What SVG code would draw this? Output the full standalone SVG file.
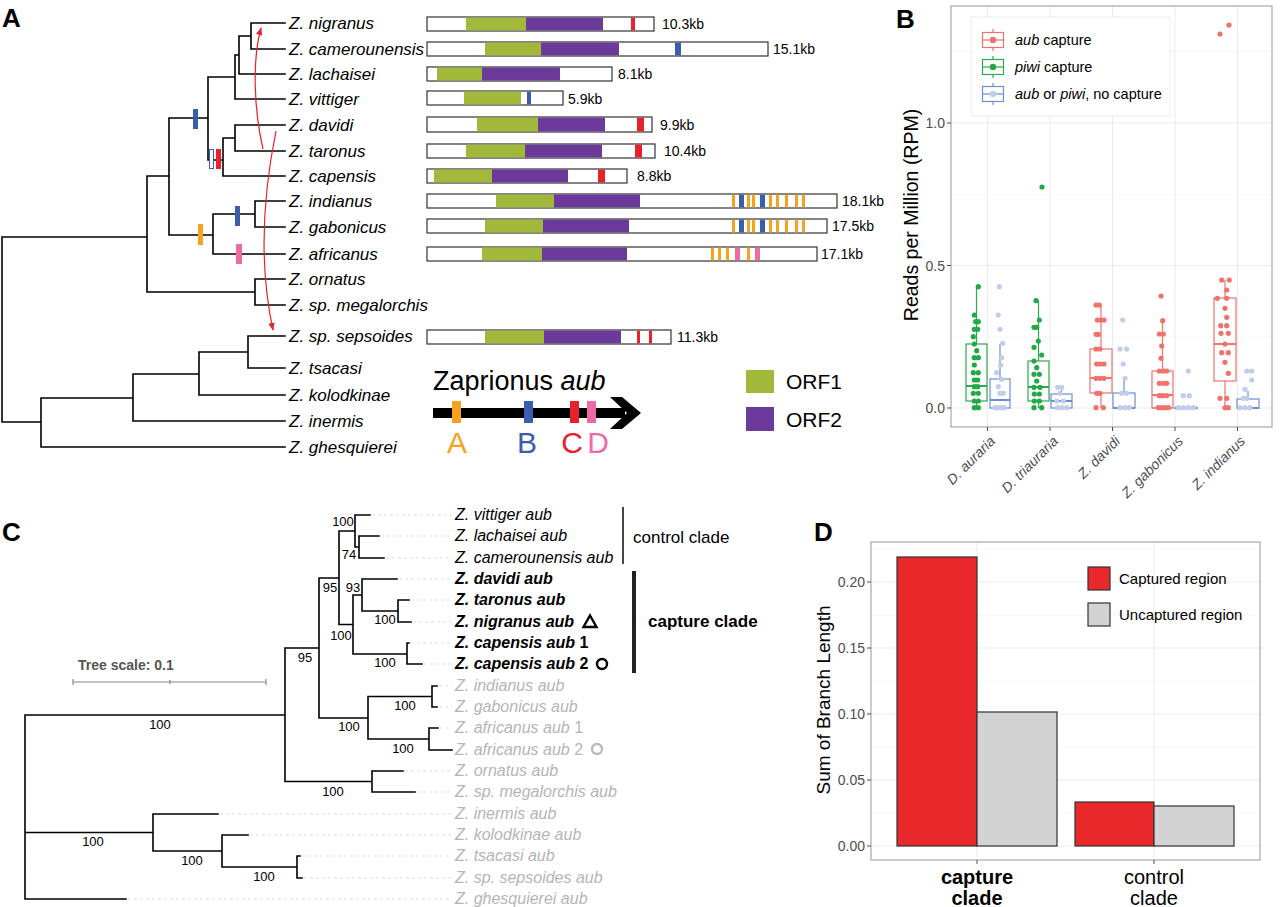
<svg xmlns="http://www.w3.org/2000/svg" width="1280" height="907" viewBox="0 0 1280 907">
<defs>
<style>
text{font-family:"Liberation Sans",Arial,Helvetica,sans-serif;}
.pl{font-weight:bold;font-size:26px;fill:#000;}
.tx{font-size:17px;font-style:italic;fill:#000;}
.kb{font-size:14px;fill:#000;}
.br{stroke:#000;stroke-width:1.6;fill:none;stroke-linecap:square;}
.bar{stroke:#333;stroke-width:1.2;fill:#fff;}
.g1{fill:#A1B83A;}
.g2{fill:#6C3A9A;}
.mr{fill:#E8222A;}
.mb{fill:#3A5DAE;}
.mo{fill:#F5A31E;}
.mp{fill:#EE6AA7;}
.grid{stroke:#EBEBEB;stroke-width:1;}
.gridm{stroke:#F4F4F4;stroke-width:0.8;}
.ax{font-size:14px;fill:#4D4D4D;}
.tk{stroke:#4D4D4D;stroke-width:1;}
.bxg{fill:#fff;fill-opacity:0;stroke:#2DAA4A;stroke-width:1.2;}
.bxr{fill:none;stroke:#F0736B;stroke-width:1.2;}
.bxb{fill:none;stroke:#6A8FD6;stroke-width:1.2;}
.pg{fill:#22A845;}
.pr{fill:#F0736B;}
.pb{fill:#C3CDEA;}
.lg{font-size:14.5px;fill:#000;}
.ct{font-size:16px;font-style:italic;fill:#000;}
.cb{font-size:16px;font-style:italic;font-weight:bold;fill:#000;}
.cg{font-size:16px;font-style:italic;fill:#B5B5B5;}
.bs{font-size:13px;fill:#000;text-anchor:middle;}
.ld{stroke:#DDDDDD;stroke-width:1;stroke-dasharray:3,3;}
</style>
<marker id="ra" viewBox="0 0 10 10" refX="9" refY="5" markerWidth="8" markerHeight="8" orient="auto" markerUnits="userSpaceOnUse">
<path d="M0,1 L10,5 L0,9 z" fill="#E8222A"/>
</marker>
</defs>
<rect width="1280" height="907" fill="#fff"/>

<!-- ================= PANEL A ================= -->
<g id="panelA">
<text class="pl" x="2" y="27">A</text>

<g id="treeA-connectors">
<path class="br" d="M251,23 H285 M251,49 H285 M251,23 V49
M239,36 H251 M239,36 V74 M239,74 H285
M235,55 H239 M235,55 V99 M235,99 H285
M235,125 H285 M235,151 H285 M235,125 V151
M223,138 H235 M223,138 V176 M223,176 H285
M208,160 H223 M208,77 V160 M208,77 H235
M169,118 H208 M169,118 V235
M255,201 H285 M255,227 H285 M255,201 V227
M213,214 H255 M213,214 V254 M213,254 H285
M169,235 H213
M147,176 H169 M147,176 V292
M255,279 H285 M255,305 H285 M255,279 V305
M147,292 H255
M2,237 H147 M2,237 V422
M248,336 H285 M248,368 H285 M248,336 V368
M199,352 H248 M199,352 V395 M199,395 H285
M133,374 H199 M133,374 V421 M133,421 H285
M41,398 H133 M41,398 V447 M41,447 H285
M2,422 H41"/>
<rect class="mb" x="193" y="109" width="5" height="20"/>
<rect x="209.5" y="149.5" width="4" height="19" fill="#fff" stroke="#3A5DAE" stroke-width="1"/>
<rect class="mr" x="216" y="149" width="5" height="20"/>
<rect class="mo" x="198" y="224" width="5" height="21"/>
<rect class="mb" x="235" y="206" width="5" height="20"/>
<rect class="mp" x="236" y="244" width="6" height="20"/>
<path d="M263,149 C254,110 252,60 261,28" fill="none" stroke="#E8222A" stroke-width="1.2" marker-end="url(#ra)"/>
<path d="M276,131 C262,200 260,270 273,330" fill="none" stroke="#E8222A" stroke-width="1.2" marker-end="url(#ra)"/>
</g>

<g id="taxaA">
<text class="tx" x="289" y="29">Z. nigranus</text>
<text class="tx" x="289" y="55">Z. camerounensis</text>
<text class="tx" x="289" y="80">Z. lachaisei</text>
<text class="tx" x="289" y="105">Z. vittiger</text>
<text class="tx" x="289" y="131">Z. davidi</text>
<text class="tx" x="289" y="157">Z. taronus</text>
<text class="tx" x="289" y="182">Z. capensis</text>
<text class="tx" x="289" y="207">Z. indianus</text>
<text class="tx" x="289" y="233">Z. gabonicus</text>
<text class="tx" x="289" y="260">Z. africanus</text>
<text class="tx" x="289" y="285">Z. ornatus</text>
<text class="tx" x="289" y="311">Z. sp. megalorchis</text>
<text class="tx" x="289" y="342">Z. sp. sepsoides</text>
<text class="tx" x="289" y="374">Z. tsacasi</text>
<text class="tx" x="289" y="401">Z. kolodkinae</text>
<text class="tx" x="289" y="427">Z. inermis</text>
<text class="tx" x="289" y="453">Z. ghesquierei</text>
</g>

<g id="genes">
<g id="g-nigranus">
<rect class="bar" x="427" y="17" width="227" height="14"/>
<rect class="g1" x="466" y="17.6" width="60" height="12.8"/>
<rect class="g2" x="526" y="17.6" width="77" height="12.8"/>
<rect class="mr" x="631" y="17.6" width="4" height="12.8"/>
<text class="kb" x="662" y="29">10.3kb</text>
</g>
<g id="g-camerounensis">
<rect class="bar" x="427" y="42" width="341" height="14"/>
<rect class="g1" x="485" y="42.6" width="56" height="12.8"/>
<rect class="g2" x="541" y="42.6" width="78" height="12.8"/>
<rect class="mb" x="675" y="42.6" width="6" height="12.8"/>
<text class="kb" x="773" y="54">15.1kb</text>
</g>
<g id="g-lachaisei">
<rect class="bar" x="427" y="67" width="185" height="14"/>
<rect class="g1" x="437" y="67.6" width="45" height="12.8"/>
<rect class="g2" x="482" y="67.6" width="78" height="12.8"/>
<text class="kb" x="618" y="79">8.1kb</text>
</g>
<g id="g-vittiger">
<rect class="bar" x="427" y="91" width="136" height="14"/>
<rect class="g1" x="464" y="91.6" width="57" height="12.8"/>
<rect class="mb" x="527" y="91.6" width="4" height="12.8"/>
<text class="kb" x="568" y="104">5.9kb</text>
</g>
<g id="g-davidi">
<rect class="bar" x="427" y="117" width="225" height="15"/>
<rect class="g1" x="477" y="117.6" width="61" height="13.8"/>
<rect class="g2" x="538" y="117.6" width="67" height="13.8"/>
<rect class="mr" x="637" y="117.6" width="7" height="13.8"/>
<text class="kb" x="660" y="130">9.9kb</text>
</g>
<g id="g-taronus">
<rect class="bar" x="427" y="144" width="228" height="14"/>
<rect class="g1" x="466" y="144.6" width="59" height="12.8"/>
<rect class="g2" x="525" y="144.6" width="77" height="12.8"/>
<rect class="mr" x="635" y="144.6" width="7" height="12.8"/>
<text class="kb" x="664" y="156">10.4kb</text>
</g>
<g id="g-capensis">
<rect class="bar" x="427" y="169" width="200" height="14"/>
<rect class="g1" x="434" y="169.6" width="58" height="12.8"/>
<rect class="g2" x="492" y="169.6" width="76" height="12.8"/>
<rect class="mr" x="598" y="169.6" width="7" height="12.8"/>
<text class="kb" x="637" y="181">8.8kb</text>
</g>
<g id="g-indianus">
<rect class="bar" x="427" y="194" width="410" height="14"/>
<rect class="g1" x="496" y="194.6" width="58" height="12.8"/>
<rect class="g2" x="554" y="194.6" width="86" height="12.8"/>
<rect class="mo" x="732" y="194.6" width="3" height="12.8"/>
<rect class="mb" x="739" y="194.6" width="5" height="12.8"/>
<rect class="mo" x="747" y="194.6" width="3" height="12.8"/>
<rect class="mo" x="752" y="194.6" width="3" height="12.8"/>
<rect class="mb" x="760" y="194.6" width="5" height="12.8"/>
<rect class="mo" x="769" y="194.6" width="3" height="12.8"/>
<rect class="mo" x="776" y="194.6" width="3" height="12.8"/>
<rect class="mo" x="785" y="194.6" width="3" height="12.8"/>
<rect class="mo" x="795" y="194.6" width="3" height="12.8"/>
<rect class="mo" x="802" y="194.6" width="3" height="12.8"/>
<text class="kb" x="842" y="206">18.1kb</text>
</g>
<g id="g-gabonicus">
<rect class="bar" x="427" y="219" width="400" height="14"/>
<rect class="g1" x="485" y="219.6" width="58" height="12.8"/>
<rect class="g2" x="543" y="219.6" width="86" height="12.8"/>
<rect class="mo" x="732" y="219.6" width="3" height="12.8"/>
<rect class="mb" x="739" y="219.6" width="5" height="12.8"/>
<rect class="mo" x="747" y="219.6" width="3" height="12.8"/>
<rect class="mo" x="752" y="219.6" width="3" height="12.8"/>
<rect class="mb" x="760" y="219.6" width="5" height="12.8"/>
<rect class="mo" x="769" y="219.6" width="3" height="12.8"/>
<rect class="mo" x="776" y="219.6" width="3" height="12.8"/>
<rect class="mo" x="785" y="219.6" width="3" height="12.8"/>
<rect class="mo" x="795" y="219.6" width="3" height="12.8"/>
<rect class="mo" x="802" y="219.6" width="3" height="12.8"/>
<text class="kb" x="832" y="231">17.5kb</text>
</g>
<g id="g-africanus">
<rect class="bar" x="427" y="247" width="390" height="14"/>
<rect class="g1" x="482" y="247.6" width="60" height="12.8"/>
<rect class="g2" x="542" y="247.6" width="85" height="12.8"/>
<rect class="mo" x="711" y="247.6" width="3" height="12.8"/>
<rect class="mo" x="718" y="247.6" width="3" height="12.8"/>
<rect class="mo" x="726" y="247.6" width="3" height="12.8"/>
<rect class="mp" x="735" y="247.6" width="5" height="12.8"/>
<rect class="mo" x="747" y="247.6" width="3" height="12.8"/>
<rect class="mp" x="755" y="247.6" width="5" height="12.8"/>
<text class="kb" x="821" y="259">17.1kb</text>
</g>
<g id="g-sepsoides">
<rect class="bar" x="427" y="330" width="244" height="14"/>
<rect class="g1" x="485" y="330.6" width="59" height="12.8"/>
<rect class="g2" x="544" y="330.6" width="77" height="12.8"/>
<rect class="mr" x="637" y="330.6" width="3" height="12.8"/>
<rect class="mr" x="649" y="330.6" width="3" height="12.8"/>
<text class="kb" x="677" y="342">11.3kb</text>
</g>
</g>

<g id="legendA">
<text x="433" y="390" font-size="27" fill="#000">Zaprionus <tspan font-style="italic">aub</tspan></text>
<line x1="433" y1="413" x2="625" y2="413" stroke="#000" stroke-width="10"/>
<polygon points="610,397 622,397 641,413 622,429 610,429 627,413" fill="#000"/>
<rect class="mo" x="452" y="401" width="9" height="22"/>
<rect class="mb" x="524" y="401" width="9" height="22"/>
<rect class="mr" x="570" y="401" width="9" height="22"/>
<rect class="mp" x="587" y="401" width="9" height="22"/>
<text x="457" y="453" font-size="30" fill="#F5A31E" text-anchor="middle">A</text>
<text x="527" y="453" font-size="30" fill="#3A5DAE" text-anchor="middle">B</text>
<text x="572" y="453" font-size="30" fill="#E8222A" text-anchor="middle">C</text>
<text x="598" y="453" font-size="30" fill="#EE6AA7" text-anchor="middle">D</text>
<rect class="g1" x="746" y="370" width="28" height="23"/>
<rect class="g2" x="746" y="407" width="28" height="24"/>
<text x="786" y="389" font-size="21" fill="#000">ORF1</text>
<text x="786" y="427" font-size="21" fill="#000">ORF2</text>
</g>
</g>

<!-- ================= PANEL B ================= -->
<g id="panelB">
<text class="pl" x="896" y="28">B</text>
<rect x="951" y="6" width="321" height="421" fill="#fff"/>
<g id="gridB">
<line class="gridm" x1="951" y1="337" x2="1272" y2="337"/>
<line class="gridm" x1="951" y1="194" x2="1272" y2="194"/>
<line class="gridm" x1="951" y1="51.5" x2="1272" y2="51.5"/>
<line class="grid" x1="951" y1="408" x2="1272" y2="408"/>
<line class="grid" x1="951" y1="265.5" x2="1272" y2="265.5"/>
<line class="grid" x1="951" y1="123" x2="1272" y2="123"/>
<line class="grid" x1="987.5" y1="6" x2="987.5" y2="427"/>
<line class="grid" x1="1050" y1="6" x2="1050" y2="427"/>
<line class="grid" x1="1112.5" y1="6" x2="1112.5" y2="427"/>
<line class="grid" x1="1175" y1="6" x2="1175" y2="427"/>
<line class="grid" x1="1237.5" y1="6" x2="1237.5" y2="427"/>
</g>
<rect x="951" y="6" width="321" height="421" fill="none" stroke="#A8A8A8" stroke-width="1.2"/>
<g id="axesB">
<line class="tk" x1="947" y1="408" x2="951" y2="408"/>
<line class="tk" x1="947" y1="265.5" x2="951" y2="265.5"/>
<line class="tk" x1="947" y1="123" x2="951" y2="123"/>
<text class="ax" x="945" y="413" text-anchor="end">0.0</text>
<text class="ax" x="945" y="270.5" text-anchor="end">0.5</text>
<text class="ax" x="945" y="128" text-anchor="end">1.0</text>
<line class="tk" x1="987.5" y1="427" x2="987.5" y2="431"/>
<line class="tk" x1="1050" y1="427" x2="1050" y2="431"/>
<line class="tk" x1="1112.5" y1="427" x2="1112.5" y2="431"/>
<line class="tk" x1="1175" y1="427" x2="1175" y2="431"/>
<line class="tk" x1="1237.5" y1="427" x2="1237.5" y2="431"/>
<text class="ax" font-size="15" text-anchor="end" transform="translate(996,442) rotate(-45)"><tspan font-style="italic">D. auraria</tspan></text>
<text class="ax" font-size="15" text-anchor="end" transform="translate(1059,442) rotate(-45)"><tspan font-style="italic">D. triauraria</tspan></text>
<text class="ax" font-size="15" text-anchor="end" transform="translate(1121,442) rotate(-45)"><tspan font-style="italic">Z. davidi</tspan></text>
<text class="ax" font-size="15" text-anchor="end" transform="translate(1184,442) rotate(-45)"><tspan font-style="italic">Z. gabonicus</tspan></text>
<text class="ax" font-size="15" text-anchor="end" transform="translate(1246,442) rotate(-45)"><tspan font-style="italic">Z. indianus</tspan></text>
<text font-size="19.5" fill="#000" text-anchor="middle" transform="translate(918,215) rotate(-90)">Reads per Million (RPM)</text>
</g>

<g id="boxesB">
<path class="bxg" d="M976.5,344 V287 M976.5,401 V408"/>
<rect class="bxg" x="966" y="344" width="21" height="57"/>
<line x1="966" y1="386" x2="987" y2="386" stroke="#2DAA4A" stroke-width="2"/>
<path class="bxb" d="M1000,379 V344"/>
<rect class="bxb" x="990" y="379" width="20" height="29"/>
<line x1="990" y1="400" x2="1010" y2="400" stroke="#6A8FD6" stroke-width="2"/>
<path class="bxg" d="M1038.5,361 V300 M1038.5,401 V408"/>
<rect class="bxg" x="1028" y="361" width="21" height="40"/>
<line x1="1028" y1="387" x2="1049" y2="387" stroke="#2DAA4A" stroke-width="2"/>
<path class="bxb" d="M1061.5,394 V387"/>
<rect class="bxb" x="1051" y="394" width="21" height="14"/>
<line x1="1051" y1="401" x2="1072" y2="401" stroke="#6A8FD6" stroke-width="2"/>
<path class="bxr" d="M1101,349 V305 M1101,393 V408"/>
<rect class="bxr" x="1090" y="349" width="22" height="44"/>
<line x1="1090" y1="378" x2="1112" y2="378" stroke="#F0736B" stroke-width="2"/>
<path class="bxb" d="M1124,393 V378"/>
<rect class="bxb" x="1113" y="393" width="22" height="15"/>
<line x1="1113" y1="408" x2="1135" y2="408" stroke="#6A8FD6" stroke-width="2"/>
<path class="bxr" d="M1162.5,371 V321"/>
<rect class="bxr" x="1152" y="371" width="21" height="37"/>
<line x1="1152" y1="395" x2="1173" y2="395" stroke="#F0736B" stroke-width="2"/>
<line x1="1152" y1="408" x2="1173" y2="408" stroke="#F0736B" stroke-width="1.2"/>
<rect class="bxb" x="1175" y="407.4" width="22" height="1.2"/>
<line x1="1175" y1="408" x2="1197" y2="408" stroke="#6A8FD6" stroke-width="2"/>
<path class="bxr" d="M1225,298 V280 M1225,381 V408"/>
<rect class="bxr" x="1214" y="298" width="22" height="83"/>
<line x1="1214" y1="344" x2="1236" y2="344" stroke="#F0736B" stroke-width="2"/>
<path class="bxb" d="M1248,399 V391"/>
<rect class="bxb" x="1237" y="399" width="22" height="9"/>
<line x1="1237" y1="408" x2="1259" y2="408" stroke="#6A8FD6" stroke-width="2"/>
</g>

<g id="pointsB">
<g class="pb">
<circle cx="999.3" cy="286.7" r="2.6"/><circle cx="998.3" cy="315" r="2.6"/><circle cx="1000" cy="329.3" r="2.6"/><circle cx="1002.7" cy="343.3" r="2.6"/><circle cx="1001.7" cy="357.7" r="2.6"/><circle cx="1000.7" cy="365" r="2.6"/><circle cx="996.7" cy="372.7" r="2.6"/><circle cx="1001.7" cy="379.3" r="2.6"/><circle cx="998.3" cy="386.7" r="2.6"/><circle cx="1000" cy="393.3" r="2.6"/><circle cx="1003.3" cy="393.3" r="2.6"/><circle cx="995" cy="407.7" r="2.6"/><circle cx="998.3" cy="407.7" r="2.6"/><circle cx="1001.7" cy="407.7" r="2.6"/><circle cx="1004.3" cy="407.7" r="2.6"/>
<circle cx="1057.7" cy="387.3" r="2.6"/><circle cx="1061.7" cy="387.3" r="2.6"/><circle cx="1060" cy="393.3" r="2.6"/><circle cx="1056.7" cy="401" r="2.6"/><circle cx="1063.3" cy="401" r="2.6"/><circle cx="1057.3" cy="407.7" r="2.6"/><circle cx="1061.7" cy="407.7" r="2.6"/><circle cx="1066.7" cy="407.7" r="2.6"/>
<circle cx="1122.7" cy="320" r="2.6"/><circle cx="1120" cy="349" r="2.6"/><circle cx="1126.7" cy="349" r="2.6"/><circle cx="1123.3" cy="364" r="2.6"/><circle cx="1125" cy="378.3" r="2.6"/><circle cx="1121.7" cy="393.3" r="2.6"/><circle cx="1126.7" cy="393.3" r="2.6"/><circle cx="1120" cy="407.7" r="2.6"/><circle cx="1125" cy="407.7" r="2.6"/><circle cx="1129.3" cy="407.7" r="2.6"/>
<circle cx="1188.3" cy="371" r="2.6"/><circle cx="1183.3" cy="395.7" r="2.6"/><circle cx="1189.3" cy="395.7" r="2.6"/><circle cx="1178.3" cy="407.7" r="2.6"/><circle cx="1183.3" cy="407.7" r="2.6"/><circle cx="1188.3" cy="407.7" r="2.6"/><circle cx="1193.3" cy="407.7" r="2.6"/>
<circle cx="1246.7" cy="371" r="2.6"/><circle cx="1251.7" cy="371" r="2.6"/><circle cx="1251.7" cy="380" r="2.6"/><circle cx="1245" cy="389.3" r="2.6"/><circle cx="1243.3" cy="398.3" r="2.6"/><circle cx="1246.7" cy="398.3" r="2.6"/><circle cx="1240" cy="407.7" r="2.6"/><circle cx="1245" cy="407.7" r="2.6"/><circle cx="1250" cy="407.7" r="2.6"/>
</g>
<g class="pg">
<circle cx="978.3" cy="286.7" r="2.6"/><circle cx="974.3" cy="315" r="2.6"/><circle cx="975.7" cy="321.7" r="2.6"/><circle cx="978.3" cy="321.7" r="2.6"/><circle cx="974.3" cy="329.3" r="2.6"/><circle cx="977.7" cy="329.3" r="2.6"/><circle cx="973.3" cy="336.7" r="2.6"/><circle cx="974.3" cy="344" r="2.6"/><circle cx="976.7" cy="350.7" r="2.6"/><circle cx="974.3" cy="357.7" r="2.6"/><circle cx="978.3" cy="357.7" r="2.6"/><circle cx="974.3" cy="365" r="2.6"/><circle cx="973.3" cy="372.7" r="2.6"/><circle cx="978.3" cy="372.7" r="2.6"/><circle cx="974.3" cy="380" r="2.6"/><circle cx="977.7" cy="380" r="2.6"/><circle cx="974.3" cy="386.7" r="2.6"/><circle cx="977.7" cy="386.7" r="2.6"/><circle cx="973.3" cy="393.3" r="2.6"/><circle cx="978.3" cy="393.3" r="2.6"/><circle cx="974.3" cy="401" r="2.6"/><circle cx="978.3" cy="401" r="2.6"/><circle cx="974.3" cy="407.7" r="2.6"/><circle cx="978.3" cy="407.7" r="2.6"/>
<circle cx="1036" cy="300.7" r="2.6"/><circle cx="1039.3" cy="320" r="2.6"/><circle cx="1034" cy="327.3" r="2.6"/><circle cx="1036.7" cy="327.3" r="2.6"/><circle cx="1038.3" cy="341" r="2.6"/><circle cx="1034" cy="347.3" r="2.6"/><circle cx="1041.7" cy="355" r="2.6"/><circle cx="1034" cy="361" r="2.6"/><circle cx="1036.7" cy="367.7" r="2.6"/><circle cx="1034" cy="374.3" r="2.6"/><circle cx="1039.3" cy="374.3" r="2.6"/><circle cx="1036.7" cy="381" r="2.6"/><circle cx="1034" cy="387.3" r="2.6"/><circle cx="1040" cy="387.3" r="2.6"/><circle cx="1034.3" cy="394" r="2.6"/><circle cx="1039.3" cy="394" r="2.6"/><circle cx="1034.3" cy="401" r="2.6"/><circle cx="1039.3" cy="401" r="2.6"/><circle cx="1034" cy="407.7" r="2.6"/><circle cx="1041.7" cy="407.7" r="2.6"/><circle cx="1042" cy="187" r="2.6"/>
</g>
<g class="pr">
<circle cx="1096" cy="305" r="2.6"/><circle cx="1099.3" cy="305" r="2.6"/><circle cx="1097.3" cy="320" r="2.6"/><circle cx="1100.7" cy="320" r="2.6"/><circle cx="1104" cy="320" r="2.6"/><circle cx="1096" cy="334.3" r="2.6"/><circle cx="1098.3" cy="334.3" r="2.6"/><circle cx="1096" cy="349" r="2.6"/><circle cx="1100" cy="349" r="2.6"/><circle cx="1096.7" cy="364" r="2.6"/><circle cx="1100" cy="364" r="2.6"/><circle cx="1104" cy="364" r="2.6"/><circle cx="1096" cy="378.3" r="2.6"/><circle cx="1100" cy="378.3" r="2.6"/><circle cx="1104" cy="378.3" r="2.6"/><circle cx="1096.7" cy="393.3" r="2.6"/><circle cx="1100" cy="393.3" r="2.6"/><circle cx="1096" cy="407.7" r="2.6"/><circle cx="1103.3" cy="407.7" r="2.6"/>
<circle cx="1161" cy="296" r="2.6"/><circle cx="1162.7" cy="320.7" r="2.6"/><circle cx="1159.3" cy="334" r="2.6"/><circle cx="1163.3" cy="334" r="2.6"/><circle cx="1161.7" cy="346" r="2.6"/><circle cx="1161" cy="358.3" r="2.6"/><circle cx="1159.3" cy="371" r="2.6"/><circle cx="1163.3" cy="371" r="2.6"/><circle cx="1166.7" cy="371" r="2.6"/><circle cx="1159.3" cy="383.3" r="2.6"/><circle cx="1163.3" cy="383.3" r="2.6"/><circle cx="1166.7" cy="383.3" r="2.6"/><circle cx="1159.3" cy="395.7" r="2.6"/><circle cx="1162.7" cy="395.7" r="2.6"/><circle cx="1166.7" cy="395.7" r="2.6"/><circle cx="1158.3" cy="407.7" r="2.6"/><circle cx="1161.7" cy="407.7" r="2.6"/><circle cx="1165" cy="407.7" r="2.6"/><circle cx="1168.3" cy="407.7" r="2.6"/>
<circle cx="1221.7" cy="280" r="2.6"/><circle cx="1229.3" cy="280" r="2.6"/><circle cx="1226.7" cy="290" r="2.6"/><circle cx="1217.3" cy="298.3" r="2.6"/><circle cx="1226.7" cy="298.3" r="2.6"/><circle cx="1225" cy="308.3" r="2.6"/><circle cx="1226.7" cy="317.3" r="2.6"/><circle cx="1220.7" cy="325.7" r="2.6"/><circle cx="1226.7" cy="325.7" r="2.6"/><circle cx="1221" cy="333.3" r="2.6"/><circle cx="1228.3" cy="333.3" r="2.6"/><circle cx="1225" cy="344" r="2.6"/><circle cx="1221.7" cy="352.7" r="2.6"/><circle cx="1228.3" cy="352.7" r="2.6"/><circle cx="1225" cy="362.3" r="2.6"/><circle cx="1228.3" cy="373.3" r="2.6"/><circle cx="1220" cy="398.3" r="2.6"/><circle cx="1226.7" cy="398.3" r="2.6"/><circle cx="1225" cy="407.7" r="2.6"/><circle cx="1228.3" cy="407.7" r="2.6"/><circle cx="1220" cy="34" r="2.6"/><circle cx="1229" cy="25" r="2.6"/>
</g>
</g>

<g id="legendB">
<rect x="971" y="17" width="199" height="99" fill="#fff" stroke="#EBEBEB" stroke-width="1"/>
<g id="key-aub">
<line x1="993" y1="29" x2="993" y2="51" stroke="#F0736B" stroke-width="1.2"/>
<rect x="982.5" y="32.5" width="21" height="15" fill="#fff" stroke="#F0736B" stroke-width="1.2"/>
<line x1="982.5" y1="40" x2="1003.5" y2="40" stroke="#F0736B" stroke-width="1.2"/>
<circle cx="993" cy="40" r="3.2" fill="#F0736B"/>
<text class="lg" x="1015" y="45"><tspan font-style="italic">aub</tspan> capture</text>
</g>
<g id="key-piwi">
<line x1="993" y1="56" x2="993" y2="78" stroke="#2DAA4A" stroke-width="1.2"/>
<rect x="982.5" y="59.5" width="21" height="15" fill="#fff" stroke="#2DAA4A" stroke-width="1.2"/>
<line x1="982.5" y1="67" x2="1003.5" y2="67" stroke="#2DAA4A" stroke-width="1.2"/>
<circle cx="993" cy="67" r="3.2" fill="#22A845"/>
<text class="lg" x="1015" y="72"><tspan font-style="italic">piwi</tspan> capture</text>
</g>
<g id="key-none">
<line x1="993" y1="83" x2="993" y2="105" stroke="#6A8FD6" stroke-width="1.2"/>
<rect x="982.5" y="86.5" width="21" height="15" fill="#fff" stroke="#6A8FD6" stroke-width="1.2"/>
<line x1="982.5" y1="94" x2="1003.5" y2="94" stroke="#6A8FD6" stroke-width="1.2"/>
<circle cx="993" cy="94" r="3.2" fill="#C3CDEA"/>
<text class="lg" x="1015" y="99"><tspan font-style="italic">aub</tspan> or <tspan font-style="italic">piwi</tspan>, no capture</text>
</g>
</g>
</g>

<!-- ================= PANEL C ================= -->
<g id="panelC">
<text class="pl" x="2" y="541">C</text>
<g id="scaleC">
<text x="78" y="670" font-size="14" font-weight="bold" fill="#555">Tree scale: 0.1</text>
<path d="M73,682 H266 M73,679 V685 M170,680 V684 M266,679 V685" stroke="#888" stroke-width="1.2" fill="none"/>
</g>
<g id="leadersC">
<line class="ld" x1="372" y1="515" x2="452" y2="515"/>
<line class="ld" x1="381" y1="536" x2="452" y2="536"/>
<line class="ld" x1="386" y1="558" x2="452" y2="558"/>
<line class="ld" x1="399" y1="579" x2="452" y2="579"/>
<line class="ld" x1="411" y1="600" x2="452" y2="600"/>
<line class="ld" x1="413" y1="622" x2="452" y2="622"/>
<line class="ld" x1="411" y1="643" x2="452" y2="643"/>
<line class="ld" x1="424" y1="664" x2="452" y2="664"/>
<line class="ld" x1="439" y1="686" x2="452" y2="686"/>
<line class="ld" x1="439" y1="707" x2="452" y2="707"/>
<line class="ld" x1="440" y1="728" x2="452" y2="728"/>
<line class="ld" x1="405" y1="771" x2="452" y2="771"/>
<line class="ld" x1="417" y1="792" x2="452" y2="792"/>
<line class="ld" x1="220" y1="814" x2="452" y2="814"/>
<line class="ld" x1="250" y1="835" x2="452" y2="835"/>
<line class="ld" x1="302" y1="856" x2="452" y2="856"/>
<line class="ld" x1="304" y1="878" x2="452" y2="878"/>
<line class="ld" x1="128" y1="899" x2="452" y2="899"/>
</g>
<g id="treeC-connectors">
<path class="br" d="M355,515 H370 M359,536 H379 M359,558 H384 M359,536 V558 M355,547 H359 M355,515 V547
M339,531 H355 M339,531 V624.5
M362,579 H397 M398,600 H409 M398,622 H411 M398,600 V622 M362,611 H398 M362,579 V611
M353,595 H362 M407,643 H409 M407,664 H422 M407,643 V664 M353,654 H407 M353,595 V654
M339,624.5 H353
M319,578 H339 M319,578 V718
M432,686 H437 M432,707 H437 M432,686 V707 M368,696.5 H432
M429,728 H438 M429,750 H452 M429,728 V750 M368,739 H429 M368,696.5 V739
M319,718 H368
M285,648 H319 M285,648 V781.5
M372,771 H403 M372,792 H415 M372,771 V792 M285,781.5 H372
M25,715 H285 M25,715 V899 M25,899 H126
M153,814 H218 M153,814 V851 M222,835 H248 M222,835 V867 M297,856 H300 M297,878 H302 M297,856 V878 M222,867 H297 M153,851 H222
M25,832.5 H153"/>
</g>
<g id="bootC">
<text class="bs" x="343" y="526">100</text>
<text class="bs" x="349" y="559">74</text>
<text class="bs" x="330" y="592">95</text>
<text class="bs" x="353" y="592">93</text>
<text class="bs" x="385" y="624">100</text>
<text class="bs" x="341" y="640">100</text>
<text class="bs" x="385" y="667">100</text>
<text class="bs" x="305" y="662">95</text>
<text class="bs" x="405" y="710">100</text>
<text class="bs" x="349" y="731">100</text>
<text class="bs" x="403" y="753">100</text>
<text class="bs" x="160" y="729">100</text>
<text class="bs" x="333" y="796">100</text>
<text class="bs" x="93" y="846">100</text>
<text class="bs" x="192" y="865">100</text>
<text class="bs" x="264" y="881">100</text>
</g>
<g id="labelsC">
<text class="ct" x="455" y="520">Z. vittiger aub</text>
<text class="ct" x="455" y="541">Z. lachaisei aub</text>
<text class="ct" x="455" y="563">Z. camerounensis aub</text>
<text class="cb" x="455" y="584">Z. davidi aub</text>
<text class="cb" x="455" y="605">Z. taronus aub</text>
<text class="cb" x="455" y="627">Z. nigranus aub</text>
<text class="cb" x="455" y="648">Z. capensis aub<tspan font-style="normal"> 1</tspan></text>
<text class="cb" x="455" y="669">Z. capensis aub<tspan font-style="normal"> 2</tspan></text>
<text class="cg" x="455" y="691">Z. indianus aub</text>
<text class="cg" x="455" y="712">Z. gabonicus aub</text>
<text class="cg" x="455" y="733">Z. africanus aub<tspan font-style="normal"> 1</tspan></text>
<text class="cg" x="455" y="755">Z. africanus aub<tspan font-style="normal"> 2</tspan></text>
<text class="cg" x="455" y="776">Z. ornatus aub</text>
<text class="cg" x="455" y="797">Z. sp. megalorchis aub</text>
<text class="cg" x="455" y="819">Z. inermis aub</text>
<text class="cg" x="455" y="840">Z. kolodkinae aub</text>
<text class="cg" x="455" y="861">Z. tsacasi aub</text>
<text class="cg" x="455" y="883">Z. sp. sepsoides aub</text>
<text class="cg" x="455" y="904">Z. ghesquierei aub</text>
<polygon points="590,615.5 596.5,627 583.5,627" fill="none" stroke="#000" stroke-width="2.4" stroke-linejoin="miter"/>
<circle cx="602" cy="664" r="5" fill="none" stroke="#000" stroke-width="2.4"/>
<circle cx="597" cy="749" r="5" fill="none" stroke="#BBBBBB" stroke-width="2.4"/>
</g>
<g id="cladesC">
<line x1="623" y1="507" x2="623" y2="564" stroke="#333" stroke-width="1.8"/>
<text x="633" y="543" font-size="17" fill="#000">control clade</text>
<line x1="634" y1="571" x2="634" y2="673" stroke="#222" stroke-width="4"/>
<text x="648" y="627" font-size="17" font-weight="bold" fill="#000">capture clade</text>
</g>
</g>

<!-- ================= PANEL D ================= -->
<g id="panelD">
<text class="pl" x="814" y="541">D</text>
<rect x="871" y="542" width="389" height="318" fill="#fff"/>
<g id="gridD">
<line class="gridm" x1="871" y1="813" x2="1260" y2="813"/>
<line class="gridm" x1="871" y1="747" x2="1260" y2="747"/>
<line class="gridm" x1="871" y1="681" x2="1260" y2="681"/>
<line class="gridm" x1="871" y1="615" x2="1260" y2="615"/>
<line class="gridm" x1="871" y1="549" x2="1260" y2="549"/>
<line class="grid" x1="871" y1="846" x2="1260" y2="846"/>
<line class="grid" x1="871" y1="780" x2="1260" y2="780"/>
<line class="grid" x1="871" y1="714" x2="1260" y2="714"/>
<line class="grid" x1="871" y1="648" x2="1260" y2="648"/>
<line class="grid" x1="871" y1="582" x2="1260" y2="582"/>
<line class="grid" x1="977" y1="542" x2="977" y2="860"/>
<line class="grid" x1="1154" y1="542" x2="1154" y2="860"/>
</g>
<g id="barsD">
<rect x="897" y="557" width="80" height="289" fill="#E8282B" stroke="#333" stroke-width="1.2"/>
<rect x="977" y="712" width="80" height="134" fill="#D3D3D3" stroke="#333" stroke-width="1.2"/>
<rect x="1075" y="802" width="79" height="44" fill="#E8282B" stroke="#333" stroke-width="1.2"/>
<rect x="1154" y="806" width="80" height="40" fill="#D3D3D3" stroke="#333" stroke-width="1.2"/>
</g>
<rect x="871" y="542" width="389" height="318" fill="none" stroke="#A8A8A8" stroke-width="1.2"/>
<g id="axesD">
<line class="tk" x1="867" y1="846" x2="871" y2="846"/>
<line class="tk" x1="867" y1="780" x2="871" y2="780"/>
<line class="tk" x1="867" y1="714" x2="871" y2="714"/>
<line class="tk" x1="867" y1="648" x2="871" y2="648"/>
<line class="tk" x1="867" y1="582" x2="871" y2="582"/>
<text class="ax" x="865" y="851" text-anchor="end">0.00</text>
<text class="ax" x="865" y="785" text-anchor="end">0.05</text>
<text class="ax" x="865" y="719" text-anchor="end">0.10</text>
<text class="ax" x="865" y="653" text-anchor="end">0.15</text>
<text class="ax" x="865" y="587" text-anchor="end">0.20</text>
<line class="tk" x1="977" y1="860" x2="977" y2="864"/>
<line class="tk" x1="1154" y1="860" x2="1154" y2="864"/>
<text font-size="19" fill="#000" text-anchor="middle" transform="translate(830,700) rotate(-90)">Sum of Branch Length</text>
<text x="977" y="884" font-size="20" font-weight="bold" fill="#000" text-anchor="middle">capture</text>
<text x="977" y="905" font-size="20" font-weight="bold" fill="#000" text-anchor="middle">clade</text>
<text x="1154" y="884" font-size="20" fill="#000" text-anchor="middle">control</text>
<text x="1154" y="905" font-size="20" fill="#000" text-anchor="middle">clade</text>
</g>
<g id="legendD">
<rect x="1088" y="567" width="22" height="23" fill="#E8282B" stroke="#333" stroke-width="1.2"/>
<rect x="1088" y="603" width="22" height="23" fill="#D3D3D3" stroke="#333" stroke-width="1.2"/>
<text x="1119" y="584" font-size="15" fill="#000">Captured region</text>
<text x="1119" y="620" font-size="15" fill="#000">Uncaptured region</text>
</g>
</g>
</svg>
